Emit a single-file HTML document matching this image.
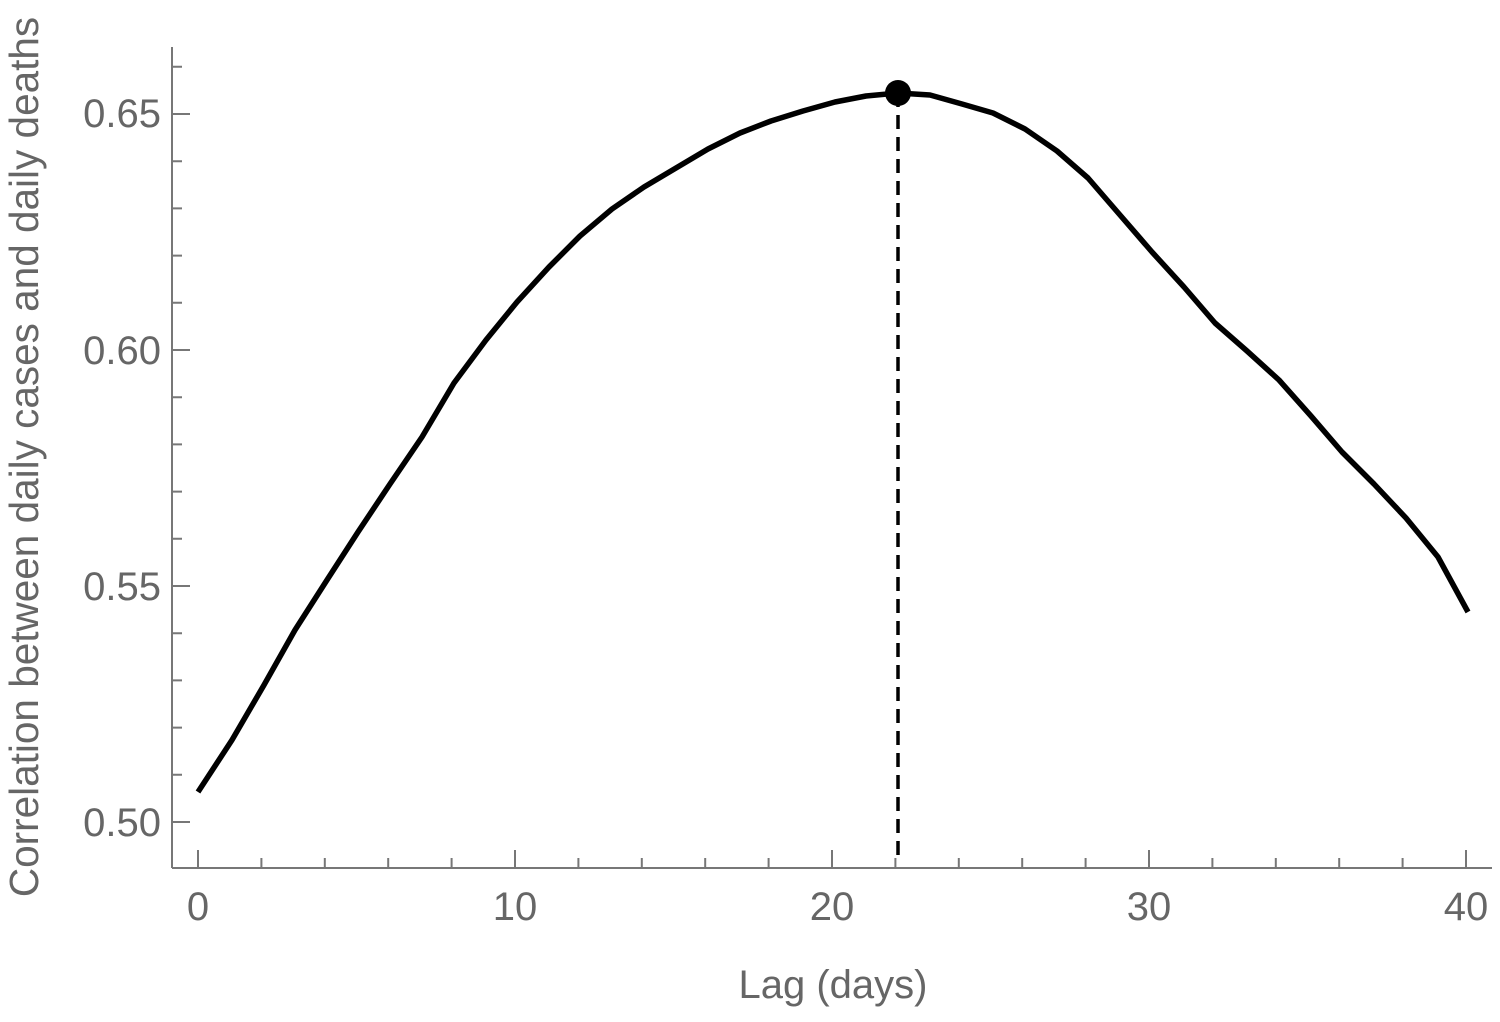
<!DOCTYPE html>
<html><head><style>body{margin:0;background:#fff}</style></head><body>
<svg width="1500" height="1017" xmlns="http://www.w3.org/2000/svg" font-family="Liberation Sans, sans-serif">
<g stroke="#777" stroke-width="2" fill="none">
<line x1="172" y1="868" x2="1492" y2="868"/>
<line x1="172" y1="47" x2="172" y2="868"/>
<path d="M198,868v-18 M261.4,868v-10 M324.8,868v-10 M388.2,868v-10 M451.6,868v-10 M515,868v-18 M578.4,868v-10 M641.8,868v-10 M705.2,868v-10 M768.6,868v-10 M832,868v-18 M895.4,868v-10 M958.8,868v-10 M1022.2,868v-10 M1085.6,868v-10 M1149,868v-18 M1212.4,868v-10 M1275.8,868v-10 M1339.2,868v-10 M1402.6,868v-10 M1466,868v-18"/>
<path d="M172,822h18 M172,774.8h10 M172,727.6h10 M172,680.4h10 M172,633.2h10 M172,586h18 M172,538.8h10 M172,491.6h10 M172,444.4h10 M172,397.2h10 M172,350h18 M172,302.8h10 M172,255.6h10 M172,208.4h10 M172,161.2h10 M172,114h18 M172,66.8h10"/>
</g>
<g fill="#666" font-size="40" text-anchor="middle">
<text x="198" y="920">0</text><text x="515" y="920">10</text><text x="832" y="920">20</text><text x="1149" y="920">30</text><text x="1466" y="920">40</text>
<text x="833" y="998">Lag (days)</text>
</g>
<g fill="#666" font-size="40" text-anchor="end">
<text x="161" y="127">0.65</text><text x="161" y="364">0.60</text><text x="161" y="600">0.55</text><text x="161" y="836">0.50</text>
</g>
<text transform="translate(38,457) rotate(-90)" fill="#666" font-size="40.5" text-anchor="middle">Correlation between daily cases and daily deaths</text>
<polyline fill="none" stroke="#000" stroke-width="5.5" stroke-linejoin="round" points="198,792 232,740 264,685 295,630 327,580 358,532 390,484 422,437 454,383 486,340 517,302 549,267 580,236 612,209 644,187 676,168 708,149 740,133 771,121 803,111 835,102 866,96 898,93 930,95 962,104 993,113 1025,129 1057,151 1088,178 1120,215 1152,252 1184,287 1215,323 1247,351 1279,380 1311,416 1342,452 1374,484 1406,518 1438,557 1468,612"/>
<line x1="898" y1="93" x2="898" y2="860" stroke="#000" stroke-width="3.5" stroke-dasharray="14,8"/>
<circle cx="898" cy="93" r="13" fill="#000"/>
</svg>
</body></html>
